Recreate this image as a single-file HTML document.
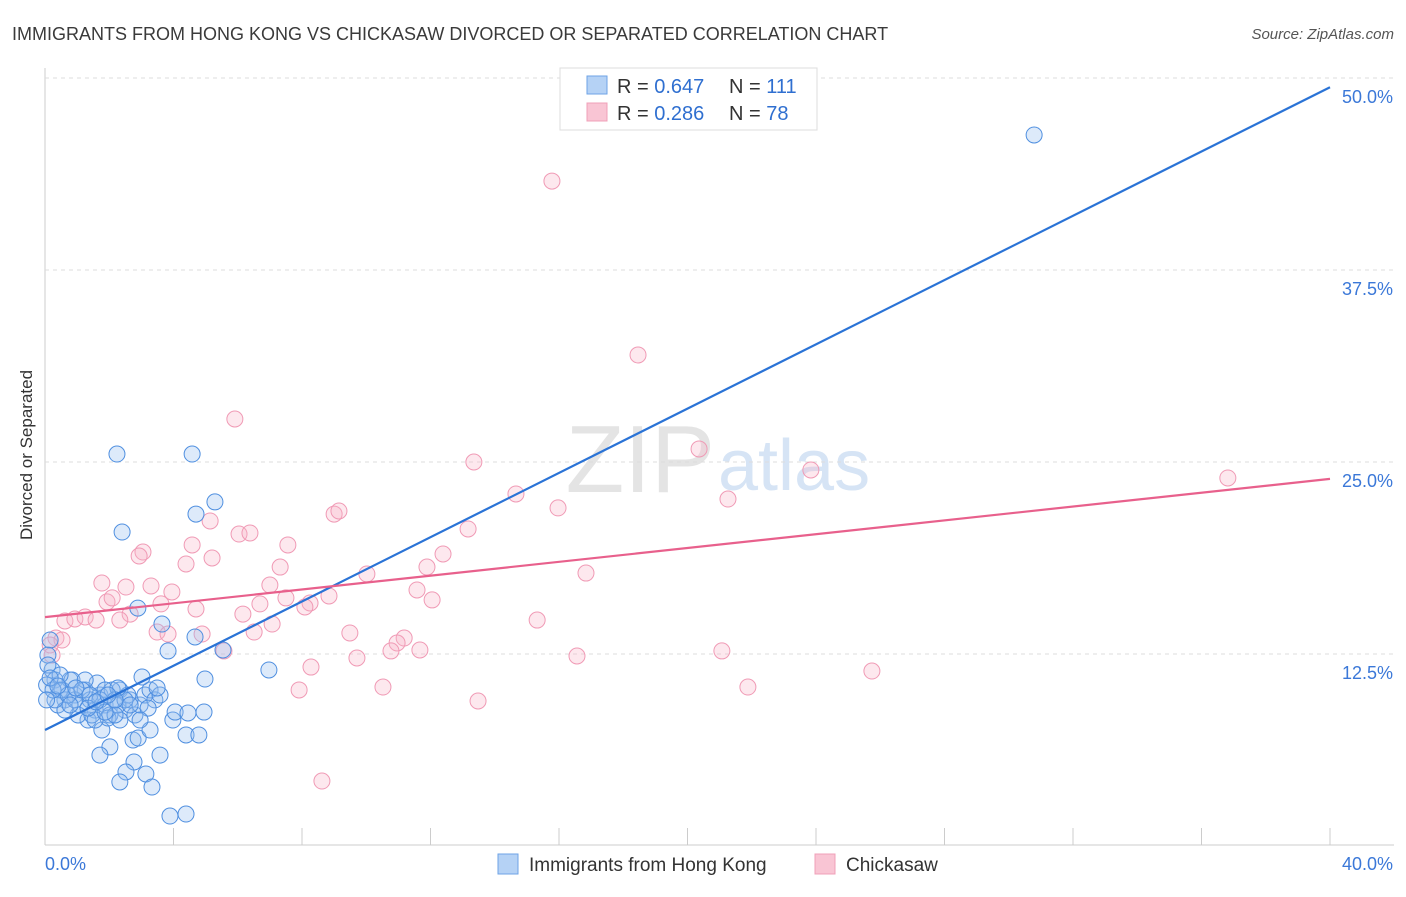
<!DOCTYPE html>
<html><head><meta charset="utf-8"><style>
body{margin:0;background:#fff;font-family:"Liberation Sans",sans-serif}
svg text{font-family:"Liberation Sans",sans-serif}
</style></head><body>
<svg id="chart" width="1406" height="892">
<text x="12" y="40" font-size="18" fill="#3a3a3a">IMMIGRANTS FROM HONG KONG VS CHICKASAW DIVORCED OR SEPARATED CORRELATION CHART</text>
<text x="1394" y="39" font-size="15" fill="#555" text-anchor="end" font-style="italic">Source: ZipAtlas.com</text>
<text x="32" y="455" font-size="17" fill="#333" text-anchor="middle" transform="rotate(-90 32 455)">Divorced or Separated</text>
<text x="715" y="492" font-size="96" fill="#e4e4e4" text-anchor="end" font-family="Liberation Serif">ZIP</text>
<text x="718" y="490" font-size="72" fill="#d6e4f5">atlas</text>
<g id="grid"></g><g id="pts"></g><g id="lines"></g>
<g>
<rect x="560" y="68" width="257" height="62" fill="#fff" stroke="#ddd"/>
<rect x="587" y="76" width="20" height="18" fill="#b5d2f5" stroke="#6ea3e6"/>
<text x="617" y="93" font-size="20" fill="#333">R = <tspan fill="#2f6fd0">0.647</tspan></text>
<text x="729" y="93" font-size="20" fill="#333">N = <tspan fill="#2f6fd0">111</tspan></text>
<rect x="587" y="103" width="20" height="18" fill="#f9c5d4" stroke="#f0a0b8"/>
<text x="617" y="120" font-size="20" fill="#333">R = <tspan fill="#2f6fd0">0.286</tspan></text>
<text x="729" y="120" font-size="20" fill="#333">N = <tspan fill="#2f6fd0">78</tspan></text>
</g>
<g>
<rect x="498" y="854" width="20" height="20" fill="#b5d2f5" stroke="#6ea3e6"/>
<text x="529" y="871" font-size="19" fill="#333">Immigrants from Hong Kong</text>
<rect x="815" y="854" width="20" height="20" fill="#f9c5d4" stroke="#f0a0b8"/>
<text x="846" y="871" font-size="19" fill="#333">Chickasaw</text>
</g>
</svg>
<script>
const yTicks=[12.5,25,37.5,50];
const yTickLabels=["12.5%","25.0%","37.5%","50.0%"];
const xTickLabels=["0.0%","40.0%"];
const blueTrend=[7.55,49.4];
const pinkTrend=[14.9,23.9];
const blueX=[30.79,2.24,4.58,2.40,5.29,4.70,2.89,3.64,3.83,4.67,5.54,6.97,4.98,4.95,0.16,0.09,0.22,0.31,0.47,0.62,0.78,0.93,1.09,1.25,1.40,1.56,1.71,1.87,2.02,2.18,2.33,2.49,2.65,2.80,2.96,3.11,3.27,3.42,3.58,3.02,1.62,1.34,1.77,1.96,2.33,2.74,2.90,3.27,3.98,4.05,4.45,4.39,4.79,3.58,2.02,1.71,2.77,2.52,3.14,2.33,3.33,3.89,4.39,0.40,0.53,0.84,1.03,1.46,2.09,2.27,2.58,3.21,3.49,0.62,0.05,0.09,0.31,1.25,1.56,1.87,2.96,0.93,0.72,0.25,1.15,1.40,1.71,2.18,2.49,2.65,2.27,1.87,2.18,1.34,0.96,0.78,0.47,1.59,1.96,0.16,0.40,0.05];
const blueY=[46.29,25.52,25.52,20.44,22.40,21.61,15.49,14.45,12.70,13.61,12.76,11.46,10.87,8.72,13.41,12.43,11.46,10.81,10.16,9.51,10.81,9.83,9.18,10.16,9.51,8.85,9.83,9.18,8.53,9.51,10.16,8.85,9.51,8.53,9.18,9.83,10.16,9.51,9.83,11.00,10.61,8.20,7.55,8.33,8.20,6.90,7.03,7.55,8.20,8.72,8.66,7.23,7.23,5.92,6.45,5.92,5.47,4.82,4.69,4.17,3.84,1.95,2.08,9.18,10.16,10.81,8.53,8.53,10.16,9.18,9.83,8.98,10.29,8.85,10.48,11.78,9.51,10.81,8.20,10.16,8.20,9.51,9.83,10.16,10.16,9.83,9.51,8.53,9.51,9.18,10.29,8.72,9.51,8.98,10.29,9.18,11.13,9.38,9.83,10.94,10.42,9.51];
const pinkX=[15.78,18.46,5.91,13.35,20.36,23.84,36.82,14.66,15.97,21.26,9.00,9.15,13.17,5.14,6.04,6.38,4.58,7.56,3.05,2.93,5.20,4.39,7.32,12.39,10.02,11.89,16.84,1.77,2.52,3.30,3.95,7.00,7.50,8.84,8.25,11.58,12.05,1.93,2.09,3.61,4.70,6.16,6.69,8.09,2.65,2.33,0.62,0.93,1.25,1.59,15.32,3.49,3.83,4.89,6.51,7.07,9.49,11.18,10.96,0.34,0.53,0.16,0.22,5.57,11.67,10.77,9.71,16.56,21.07,8.28,25.74,7.91,10.52,21.88,13.48,8.62];
const pinkY=[43.29,31.97,27.80,25.0,25.85,24.48,23.96,22.92,22.01,22.59,21.61,21.81,20.64,21.16,20.31,20.38,19.60,19.60,19.14,18.88,18.75,18.36,18.16,19.01,17.71,18.16,17.77,17.12,16.86,16.93,16.54,16.99,16.15,16.28,15.82,16.67,16.02,15.89,16.15,15.76,15.43,15.10,15.76,15.56,15.10,14.71,14.65,14.78,14.91,14.71,14.71,13.93,13.80,13.80,13.93,14.45,13.87,13.54,13.22,13.54,13.41,13.09,12.43,12.70,12.76,12.70,12.24,12.37,12.70,11.65,11.39,10.16,10.35,10.35,9.44,4.23];
const NS='http://www.w3.org/2000/svg';
const X0=45,X1=1330,Y0=846,PY=15.36;
const sx=v=>X0+(v/40)*(X1-X0);
const sy=v=>Y0-v*PY;
function mk(tag,attrs,parent){const e=document.createElementNS(NS,tag);for(const k in attrs)e.setAttribute(k,attrs[k]);parent.appendChild(e);return e;}
const grid=document.getElementById('grid');
let ax=mk('line',{x1:X0,y1:68,x2:X0,y2:845,stroke:'#ccc'},grid);


let bx=mk('line',{x1:X0,y1:845,x2:1394,y2:845,stroke:'#ccc'},grid);


for(let i=0;i<yTicks.length;i++){
 const g=mk('line',{x1:X0,y1:sy(yTicks[i]),x2:1394,y2:sy(yTicks[i]),stroke:'#ddd','stroke-dasharray':'4,4'},grid);
 
 
 const t=mk('text',{x:1393,y:sy(yTicks[i])+25,'font-size':18,fill:'#3b78d8','text-anchor':'end'},grid);
 t.textContent=yTickLabels[i];
 
 
}
for(let i=0;i<=10;i++){
 const x=sx(i*4);
 const t=mk('line',{x1:x,y1:828,x2:x,y2:845,stroke:'#ccc'},grid);
 
 
}
const xl0=mk('text',{x:45,y:870,'font-size':18,fill:'#3b78d8'},grid);xl0.textContent=xTickLabels[0];


const xl1=mk('text',{x:1393,y:870,'font-size':18,fill:'#3b78d8','text-anchor':'end'},grid);xl1.textContent=xTickLabels[1];


const pts=document.getElementById('pts');
for(let i=0;i<pinkX.length;i++){
 const c=mk('circle',{cx:sx(pinkX[i]),cy:sy(pinkY[i]),r:8,fill:'rgba(248,180,200,0.3)',stroke:'#f09ab5','stroke-width':1},pts);
 
 
}
for(let i=0;i<blueX.length;i++){
 const c=mk('circle',{cx:sx(blueX[i]),cy:sy(blueY[i]),r:8,fill:'rgba(150,190,240,0.32)',stroke:'#4f8fe0','stroke-width':1},pts);
 
 
}
const lines=document.getElementById('lines');
const bl=mk('line',{x1:sx(0),y1:sy(blueTrend[0]),x2:sx(40),y2:sy(blueTrend[1]),stroke:'#2a73d6','stroke-width':2.2},lines);


const pl=mk('line',{x1:sx(0),y1:sy(pinkTrend[0]),x2:sx(40),y2:sy(pinkTrend[1]),stroke:'#e8608c','stroke-width':2.2},lines);


</script>
</body></html>
